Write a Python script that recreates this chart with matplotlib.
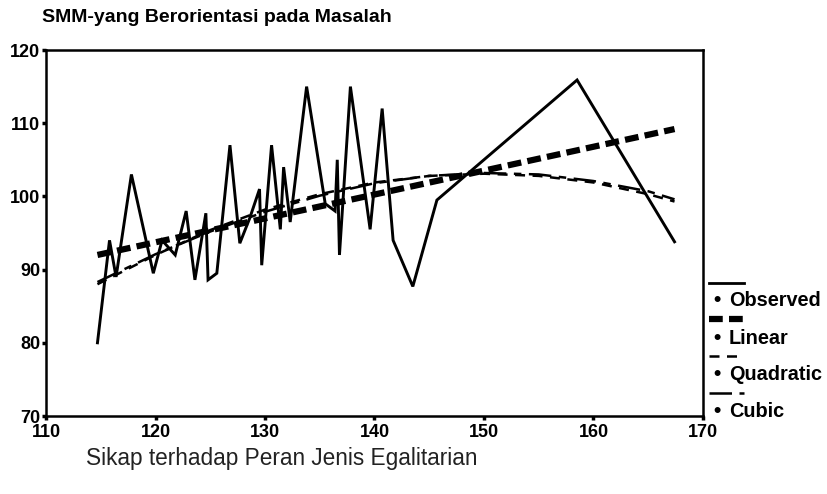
import numpy as np
import matplotlib
matplotlib.use("Agg")
import matplotlib.pyplot as plt
from matplotlib.lines import Line2D

plt.rcParams['font.family'] = ['Liberation Sans', 'DejaVu Sans']

# observed means
obs_x = [114.7, 115.8, 116.4, 117.8, 119.8, 120.6, 121.8, 122.8, 123.6, 124.6, 124.8,
         125.6, 126.8, 127.7, 128.6, 129.5, 129.7, 130.6, 131.4, 131.7, 132.3, 133.8,
         135.5, 136.4, 136.6, 136.8, 137.8, 139.6, 140.7, 141.7, 143.5, 145.7, 158.5, 167.4]
obs_y = [80, 94, 89, 103, 89.5, 94, 92, 98, 88.6, 97.7, 88.6,
         89.5, 107, 93.6, 97, 101, 90.6, 107, 95.5, 104, 96.5, 115,
         99, 98, 105, 92, 115, 95.5, 112, 94, 87.7, 99.5, 115.9, 93.8]

# fitted curves
lin_x = [114.7, 167.4]
lin_y = [92.0, 109.2]

fit_x = [114.7, 120, 125, 130, 135, 140, 145, 150, 155, 160, 165, 167.4]
quad_y = [88.0, 92.0, 95.4, 98.2, 100.3, 101.9, 102.8, 103.1, 102.8, 101.9, 100.3, 99.3]
cub_y = [88.3, 92.1, 95.2, 97.9, 100.1, 101.8, 102.8, 103.2, 103.0, 102.1, 100.7, 99.6]

xticks = [110, 120, 130, 140, 150, 160, 170]
yticks = [70, 80, 90, 100, 110, 120]

W, H = 828, 494
fig = plt.figure(figsize=(W / 100, H / 100), dpi=100)
ax = fig.add_axes([46 / W, 1 - 416 / H, (703 - 46) / W, (416 - 50) / H])

ax.plot(obs_x, obs_y, color='black', lw=2.1, solid_joinstyle='miter')
ax.plot(lin_x, lin_y, color='black', lw=4.5, linestyle=(0, (2.2, 1.0)))
ax.plot(fit_x, quad_y, color='black', lw=1.8, linestyle=(0, (4, 3)))
ax.plot(fit_x, cub_y, color='black', lw=1.8, linestyle=(0, (9, 3, 3, 3)))

ax.set_xlim(110, 170)
ax.set_ylim(70, 120)
ax.set_xticks(xticks)
ax.set_yticks(yticks)
for s in ax.spines.values():
    s.set_linewidth(1.8)
ax.tick_params(length=3, width=2.5, direction='out', labelsize=13)
ax.tick_params(axis='y', pad=1)
ax.tick_params(axis='x', pad=3)
for lab in ax.get_xticklabels() + ax.get_yticklabels():
    lab.set_fontweight('bold')

fig.text(42 / W, 1 - 18 / H, 'SMM-yang Berorientasi pada Masalah', fontsize=14,
         va='center', ha='left', fontweight='bold')
fig.text(86 / W, 1 - 458 / H, 'Sikap terhadap Peran Jenis Egalitarian', fontsize=16.3,
         va='center', ha='left', color='#222222')

# legend, SPSS style: sample line above each label
leg = [('Observed', dict(lw=2.0, linestyle='-')),
       ('Linear', dict(lw=4.5, linestyle=(0, (2.2, 1.0)))),
       ('Quadratic', dict(lw=1.8, linestyle=(0, (4, 3)))),
       ('Cubic', dict(lw=1.8, linestyle=(0, (9, 3, 3, 3))))]
line_y = [283, 319, 356, 393]
text_y = [300, 338, 374, 411]
for (name, st), ly, ty in zip(leg, line_y, text_y):
    fig.add_artist(Line2D([709 / W, 744 / W], [1 - ly / H, 1 - ly / H],
                          transform=fig.transFigure, color='black', **st))
    fig.text(713 / W, 1 - ty / H, '\u2022', fontsize=15, va='center', ha='left',
             fontweight='bold')
    fig.text(729 / W, 1 - ty / H, name, fontsize=14.3, va='center', ha='left',
             fontweight='bold')

fig.savefig('out.png', dpi=100)
